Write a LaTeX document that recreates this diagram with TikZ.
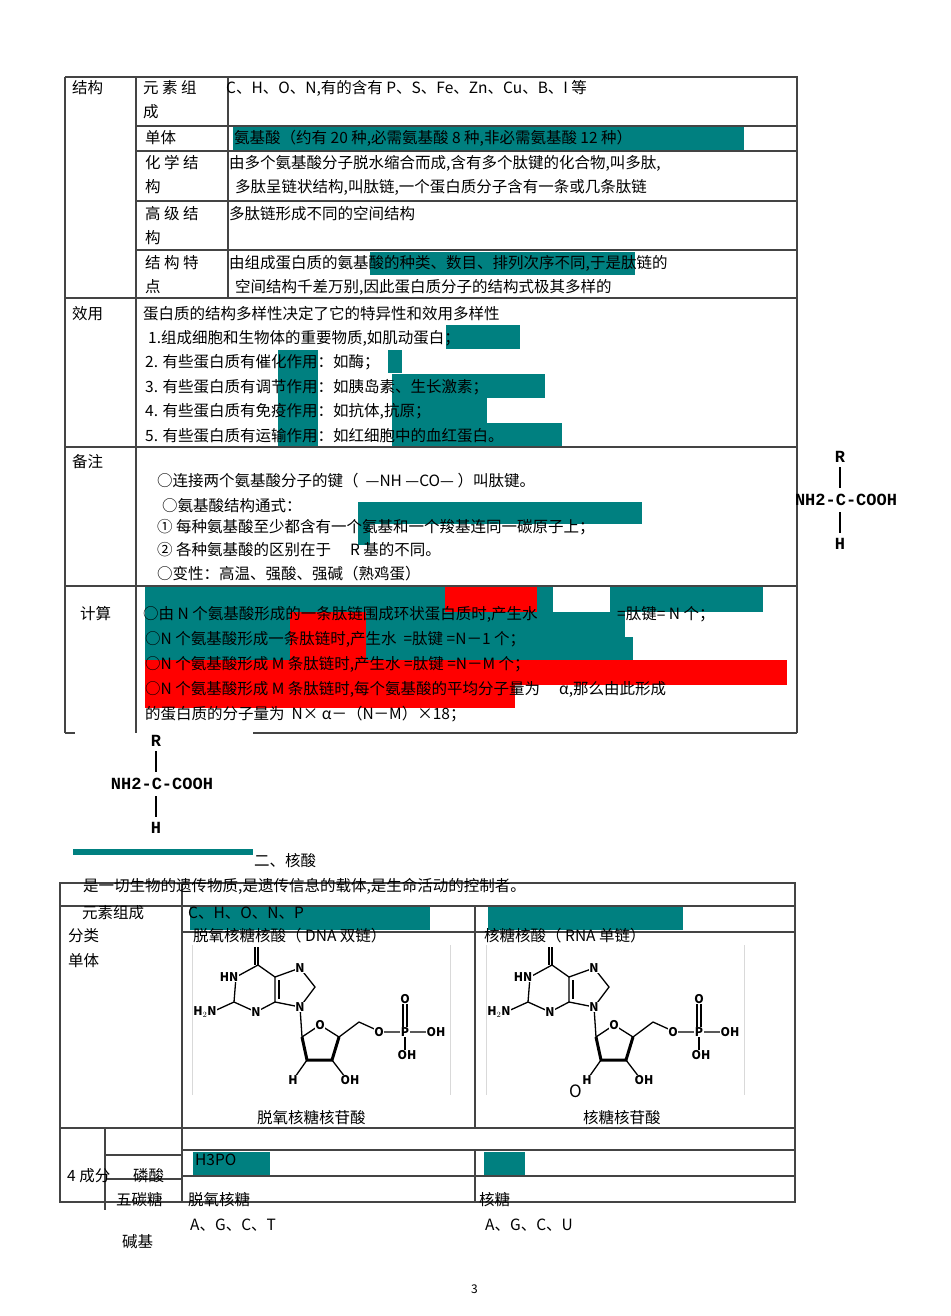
\documentclass[tikz,border=0pt]{standalone}
\usepackage{fontspec}
\setmainfont{Noto Sans CJK SC}
\newfontfamily\monof{Liberation Mono}
\definecolor{tl}{HTML}{008080}
\definecolor{ln}{HTML}{444444}
\begin{document}
\begin{tikzpicture}[x=1pt,y=-1pt,
  tx/.style={anchor=base west,inner sep=0pt,font=\fontsize{15.5}{17}\selectfont},
  frm/.style={draw=ln,line width=1.1pt},
  teal/.style={fill=tl},
  redb/.style={fill=red},
  mol/.style={line width=1.3pt,black},
  atm/.style={inner sep=0.5pt,fill=white,font=\fontsize{12}{12}\selectfont\bfseries},
  aa/.style={inner sep=0pt,font=\fontsize{17}{17}\monof\bfseries}]
\useasboundingbox (0,0) rectangle (950,1316);
\fill[white] (0,0) rectangle (950,1316);
% ---------- highlights table 1
\fill[teal] (233,127) rectangle (744,150);
\fill[teal] (370,252) rectangle (635,275);
\fill[teal] (446,325) rectangle (520,349);
\fill[teal] (278,350) rectangle (318,447);
\fill[teal] (388,350) rectangle (402,373);
\fill[teal] (392,374) rectangle (545,398);
\fill[teal] (392,398) rectangle (487,423);
\fill[teal] (392,423) rectangle (562,447);
\fill[teal] (358,502) rectangle (642,524);
\fill[teal] (358,524) rectangle (370,545);
\fill[teal] (145,587) rectangle (445,612);
\fill[redb] (445,587) rectangle (537,612);
\fill[teal] (537,587) rectangle (553,612);
\fill[teal] (610,587) rectangle (763,612);
\fill[teal] (145,612) rectangle (625,637);
\fill[teal] (145,637) rectangle (633,660);
\fill[redb] (290,612) rectangle (366,660);
\fill[redb] (145,660) rectangle (787,685);
\fill[redb] (145,685) rectangle (515,708);
% ---------- table 1 frame
\draw[frm] (65,77) -- (797,77) -- (797,733);
\draw[frm] (65,77) -- (65,733);
\draw[frm] (65,733) -- (75,733);
\draw[frm] (253,733) -- (797,733);
\draw[frm] (136,77) -- (136,733);
\draw[frm] (228,77) -- (228,298);
\foreach \y in {126,151,201,250} \draw[frm] (136,\y) -- (797,\y);
\foreach \y in {298,447,586} \draw[frm] (65,\y) -- (797,\y);
% ---------- table 1 texts
\node[tx] (t1) at (72,94) {结构};
\node[tx] (t2) at (143,94) {元 素 组};
\node[tx] (t3) at (143,118) {成};
\node[tx] (t4) at (226,94) {C、H、O、N,有的含有 P、S、Fe、Zn、Cu、B、I 等};
\node[tx] (t5) at (145,144) {单体};
\node[tx] (t6) at (234,144) {氨基酸（约有 20 种,必需氨基酸 8 种,非必需氨基酸 12 种）};
\node[tx] (t7) at (145,168) {化 学 结};
\node[tx] (t8) at (145,193) {构};
\node[tx] (t9) at (229,168) {由多个氨基酸分子脱水缩合而成,含有多个肽键的化合物,叫多肽,};
\node[tx] (t10) at (235,193) {多肽呈链状结构,叫肽链,一个蛋白质分子含有一条或几条肽链};
\node[tx] (t11) at (145,219) {高 级 结};
\node[tx] (t12) at (145,243) {构};
\node[tx] (t13) at (229,219) {多肽链形成不同的空间结构};
\node[tx] (t14) at (145,268) {结 构 特};
\node[tx] (t15) at (145,292) {点};
\node[tx] (t16) at (229,268) {由组成蛋白质的氨基酸的种类、数目、排列次序不同,于是肽链的};
\node[tx] (t17) at (235,292) {空间结构千差万别,因此蛋白质分子的结构式极其多样的};
\node[tx] (t18) at (72,319) {效用};
\node[tx] (t19) at (143,319) {蛋白质的结构多样性决定了它的特异性和效用多样性};
\node[tx] (t20) at (148,343) {1.组成细胞和生物体的重要物质,如肌动蛋白；};
\node[tx] (t21) at (145,367) {2. 有些蛋白质有催化作用：如酶；};
\node[tx] (t22) at (145,392) {3. 有些蛋白质有调节作用：如胰岛素、生长激素；};
\node[tx] (t23) at (145,416) {4. 有些蛋白质有免疫作用：如抗体,抗原；};
\node[tx] (t24) at (145,441) {5. 有些蛋白质有运输作用：如红细胞中的血红蛋白。};
\node[tx] (t25) at (72,467) {备注};
\node[tx] (t26) at (157,486) {○连接两个氨基酸分子的键（ \ —NH —CO— ）叫肽键。};
\node[tx] (t27) at (162,511) {○氨基酸结构通式：};
\node[tx] (t28) at (157,532) {① 每种氨基酸至少都含有一个氨基和一个羧基连同一碳原子上；};
\node[tx] (t29) at (157,555) {② 各种氨基酸的区别在于 \quad R 基的不同。};
\node[tx] (t30) at (157,579) {○变性：高温、强酸、强碱（熟鸡蛋）};
\node[tx] (t31) at (80,619) {计算};
\node[tx] (t32) at (143,619) {○由 N 个氨基酸形成的一条肽链围成环状蛋白质时,产生水};
\node[tx] (t33) at (617,619) {=肽键= N 个；};
\node[tx] (t34) at (145,644) {○N 个氨基酸形成一条肽链时,产生水 \ =肽键 =N－1 个；};
\node[tx] (t35) at (145,669) {○N 个氨基酸形成 M 条肽链时,产生水 =肽键 =N－M 个；};
\node[tx] (t36) at (145,694) {○N 个氨基酸形成 M 条肽链时,每个氨基酸的平均分子量为 \quad α,那么由此形成};
\node[tx] (t37) at (145,719) {的蛋白质的分子量为 \ N× α－（N－M）×18；};
% ---------- amino acid formulas
\foreach \nm/\cx/\cy in {ra/846/500,rb/162/784}{
  \node[aa] (\nm f) at (\cx,\cy) {NH2-C-COOH};
  \node[aa] (\nm r) at (\cx-6,\cy-43) {R};
  \node[aa] (\nm h) at (\cx-6,\cy+44) {H};
  \draw[line width=1.5pt] (\cx-6,\cy-33) -- (\cx-6,\cy-12);
  \draw[line width=1.5pt] (\cx-6,\cy+12) -- (\cx-6,\cy+33);
}
\fill[teal] (73,849) rectangle (253,855);
% ---------- section 2
\node[tx] (s1) at (254,866) {二、核酸};
\fill[teal] (190,907) rectangle (430,930);
\fill[teal] (488,907) rectangle (683,930);
\fill[teal] (193,1152) rectangle (270,1175);
\fill[teal] (484,1152) rectangle (525,1175);
\draw[frm] (60,883) rectangle (795,1202);
\draw[frm] (60,906) -- (795,906);
\draw[frm] (182,932) -- (795,932);
\draw[frm] (60,1128) -- (795,1128);
\draw[frm] (182,883) -- (182,1202);
\draw[frm] (475,906) -- (475,1128);
\draw[frm] (475,1150) -- (475,1202);
\draw[frm] (182,1150) -- (795,1150);
\draw[frm] (182,1176) -- (795,1176);
\draw[frm] (105,1128) -- (105,1210);
\draw[frm] (105,1155) -- (182,1155);
\draw[frm] (105,1179) -- (182,1179);
\draw[black!15] (192,945) -- (192,1095);
\draw[black!15] (450,945) -- (450,1095);
\draw[black!15] (486,945) -- (486,1095);
\draw[black!15] (744,945) -- (744,1095);
% ---------- molecules
\foreach \dx/\nm in {0/ma,294/mb}{
\begin{scope}[xshift=\dx]
  \draw[mol] (258,947) -- (258,965);
  \draw[mol] (255,947) -- (255,965);
  \draw[mol] (258,965) -- (236,977) -- (234,1002) -- (256,1012) -- (275,1002) -- (275,977) -- cycle;
  \draw[mol] (275,977) -- (300,968) -- (315,987) -- (300,1007) -- (275,1002);
  \draw[mol] (279,980) -- (279,999);
  \draw[mol] (234,1002) -- (212,1012);
  \draw[mol] (300,1007) -- (302,1037);
  \draw[mol] (302,1037) -- (320,1025) -- (339,1037);
  \draw[line width=3pt] (302,1037) -- (307,1060) -- (332,1060) -- (339,1037);
  \draw[mol] (339,1037) -- (359,1022) -- (381,1032) -- (440,1032);
  \draw[mol] (403,999) -- (403,1032);
  \draw[mol] (407,999) -- (407,1032);
  \draw[mol] (405,1032) -- (405,1055);
  \draw[mol] (307,1060) -- (295,1077);
  \draw[mol] (332,1060) -- (345,1077);
  \node[atm] (\nm a) at (229,977) {HN};
  \node[atm] (\nm b) at (300,968) {N};
  \node[atm] (\nm c) at (300,1007) {N};
  \node[atm] (\nm d) at (256,1012) {N};
  \node[atm] (\nm e) at (205,1012) {H$_2$N};
  \node[atm] (\nm f) at (320,1025) {O};
  \node[atm] (\nm g) at (379,1032) {O};
  \node[atm] (\nm h) at (405,1032) {P};
  \node[atm] (\nm i) at (436,1032) {OH};
  \node[atm] (\nm j) at (405,999) {O};
  \node[atm] (\nm k) at (407,1055) {OH};
  \node[atm] (\nm l) at (293,1080) {H};
  \node[atm] (\nm m) at (350,1080) {OH};
\end{scope}}
\node[tx,font=\fontsize{17}{17}\selectfont] (s0) at (569,1097) {O};
% ---------- section 2 texts
\node[tx] (s2) at (83,891) {是一切生物的遗传物质,是遗传信息的载体,是生命活动的控制者。};
\node[tx] (s3) at (82,918) {元素组成};
\node[tx] (s4) at (188,918) {C、H、O、N、P};
\node[tx] (s5) at (68,941) {分类};
\node[tx] (s6) at (68,966) {单体};
\node[tx] (s7) at (193,941) {脱氧核糖核酸（ DNA 双链）};
\node[tx] (s8) at (484,941) {核糖核酸（ RNA 单链）};
\node[tx] (s9) at (257,1123) {脱氧核糖核苷酸};
\node[tx] (s10) at (583,1123) {核糖核苷酸};
\node[tx] (s11) at (67,1181) {4 成分};
\node[tx] (s12) at (133,1181) {磷酸};
\node[tx] (s13) at (195,1165) {H3PO};
\node[tx] (s14) at (116,1205) {五碳糖};
\node[tx] (s15) at (188,1205) {脱氧核糖};
\node[tx] (s16) at (479,1205) {核糖};
\node[tx] (s17) at (190,1230) {A、G、C、T};
\node[tx] (s18) at (485,1230) {A、G、C、U};
\node[tx] (s19) at (122,1247) {碱基};
\node[tx,font=\fontsize{12}{12}\selectfont] (pg) at (471,1293) {3};
\end{tikzpicture}
\end{document}
